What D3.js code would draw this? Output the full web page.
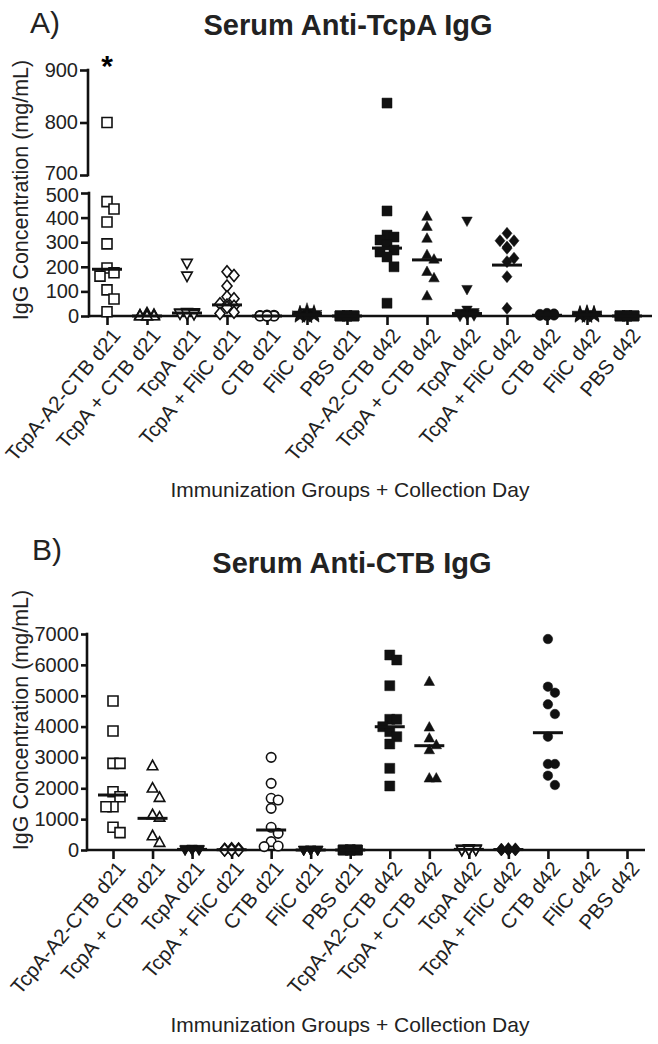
<!DOCTYPE html>
<html>
<head>
<meta charset="utf-8">
<script src="https://cdn.jsdelivr.net/npm/d3@7"></script>
<style>
  html, body { margin: 0; padding: 0; background: #fff; }
  svg { display: block; font-family: "Liberation Sans", Arial, sans-serif; }
</style>
</head>
<body>
<svg id="chart" width="658" height="1044"></svg>
<script>
// ---------------- DATA ----------------
const categories = [
  "TcpA-A2-CTB d21", "TcpA + CTB d21", "TcpA d21", "TcpA + FliC d21",
  "CTB d21", "FliC d21", "PBS d21",
  "TcpA-A2-CTB d42", "TcpA + CTB d42", "TcpA d42", "TcpA + FliC d42",
  "CTB d42", "FliC d42", "PBS d42"
];

// Panel A: Serum anti-TcpA IgG (mg/mL), one list per group
const tcpaValues = [
  [800, 465, 435, 382, 293, 195, 176, 162, 106, 69, 17],
  [12, 5, 3, 2, 1, 0, 0, 0, 0, 0],
  [215, 163, 15, 14, 13, 12, 11, 10, 9, 8],
  [180, 165, 122, 78, 70, 50, 45, 40, 36, 15, 10],
  [4, 3, 2, 2, 1, 1, 0, 0, 0, 0],
  [20, 12, 10, 8, 6, 5, 4, 3, 2, 0],
  [2, 1, 1, 0, 0, 0, 0, 0, 0, 0],
  [837, 427, 329, 321, 309, 289, 268, 260, 240, 200, 52],
  [404, 363, 315, 248, 230, 180, 154, 81],
  [387, 109, 25, 15, 12, 10, 8, 6, 4, 2, 0],
  [336, 306, 306, 280, 275, 235, 221, 160, 31],
  [12, 10, 8, 6, 5, 4, 3, 2, 1, 0],
  [12, 10, 9, 8, 6, 5, 4, 3, 2, 1],
  [2, 1, 1, 0, 0, 0, 0, 0, 0, 0]
];
const tcpaMedians = [190, 0, 12, 45, 0, 5, 0, 276, 228, 10, 207, 3, 5, 0];
const tcpaTicksLow = [0, 100, 200, 300, 400, 500];
const tcpaTicksHigh = [700, 800, 900];

// Panel B: Serum anti-CTB IgG (mg/mL)
const ctbValues = [
  [4828, 3856, 2808, 2808, 1890, 1728, 1404, 1404, 735, 562],
  [2722, 2000, 1696, 1134, 1058, 454, 238],
  [40, 30, 30, 20, 20, 10, 10, 0, 0, 0],
  [40, 30, 20, 20, 10, 10, 0, 0, 0, 0],
  [3003, 2160, 1675, 1620, 1350, 735, 540, 270, 130, 110],
  [10, 5, 0, 0, 0, 0, 0, 0, 0, 0],
  [5, 0, 0, 0, 0, 0, 0, 0, 0, 0],
  [6319, 6157, 5324, 4235, 4235, 3995, 3834, 3672, 3435, 2647, 2074],
  [5454, 3975, 3619, 3402, 3240, 2323, 2323],
  [50, 40, 30, 30, 20, 20, 10, 10, 0, 0],
  [50, 40, 30, 20, 20, 10, 10, 0, 0, 0],
  [6837, 5292, 5098, 4720, 4407, 3672, 2787, 2787, 2408, 2106],
  [],
  []
];
const ctbMedians = [1782, 1026, 20, 10, 648, 0, 0, 3995, 3380, 20, 15, 3801, null, null];
const ctbTicks = [0, 1000, 2000, 3000, 4000, 5000, 6000, 7000];

// ---------------- STYLE ----------------
const symA = ["square","triUp","triDown","diamond","circle","star","square",
              "square","triUp","triDown","diamond","circle","star","square"];
const fillA = [false,false,false,false,false,true,true, true,true,true,true,true,true,true];
const symB = ["square","triUp","triDown","diamond","circle","triDown","square",
              "square","triUp","triDown","diamond","circle","star","square"];
const fillB = [false,false,true,false,false,true,true, true,true,false,true,true,true,true];

function symbolPath(type, r) {
  const p = d3.path();
  if (type === "square") { p.rect(-r, -r, 2 * r, 2 * r); }
  else if (type === "triUp") { p.moveTo(0, -r * 1.15); p.lineTo(r * 1.05, r * 0.75); p.lineTo(-r * 1.05, r * 0.75); p.closePath(); }
  else if (type === "triDown") { p.moveTo(0, r * 1.15); p.lineTo(r * 1.05, -r * 0.75); p.lineTo(-r * 1.05, -r * 0.75); p.closePath(); }
  else if (type === "diamond") { p.moveTo(0, -r * 1.2); p.lineTo(r * 1.0, 0); p.lineTo(0, r * 1.2); p.lineTo(-r * 1.0, 0); p.closePath(); }
  else if (type === "circle") { p.arc(0, 0, r * 0.95, 0, 2 * Math.PI); p.closePath(); }
  else if (type === "star") { return d3.symbol(d3.symbolStar, r * r * 3.2)(); }
  return p.toString();
}

const svg = d3.select("#chart");
const AXW = 2.6;

// simple column-swarm layout: centre, right, left
function swarm(values, yOf, xc, step, ySize) {
  const sorted = values.slice().sort((a, b) => b - a);
  const placed = [];
  const cands = [0, step, -step];
  sorted.forEach(v => {
    const y = yOf(v);
    let best = 0, bestOv = Infinity;
    for (const c of cands) {
      let ov = 0;
      placed.forEach(p => { if (Math.abs(p.y - y) < ySize && Math.abs(p.dx - c) < step) ov++; });
      if (ov < bestOv) { bestOv = ov; best = c; }
      if (ov === 0) break;
    }
    placed.push({ v: v, y: y, dx: best });
  });
  return placed.map(p => ({ v: p.v, x: xc + p.dx, y: p.y }));
}

function drawPanel(o) {
  const g = svg.append("g");
  const x = d3.scalePoint().domain(categories).range(o.xRange);

  // panel letter + title
  g.append("text").attr("x", o.letterX).attr("y", o.letterY)
    .attr("font-size", 30).attr("fill", "#222").text(o.letter);
  g.append("text").attr("x", o.titleX).attr("y", o.titleY)
    .attr("text-anchor", "middle").attr("font-size", 29).attr("font-weight", "bold")
    .attr("fill", "#222").text(o.title);

  // y axes
  o.ySegments.forEach(seg => {
    const ax = g.append("g").attr("transform", `translate(${seg.axisX},0)`)
      .call(d3.axisLeft(seg.scale).tickValues(seg.ticks).tickSizeOuter(0).tickSize(o.yTick).tickPadding(2).tickFormat(d3.format("d")));
    ax.select(".domain").attr("stroke-width", AXW).attr("stroke", "#111");
    ax.selectAll(".tick line").attr("stroke-width", AXW).attr("stroke", "#111");
    ax.selectAll(".tick text").attr("font-size", 20).attr("fill", "#222")
      .attr("font-family", "Liberation Sans, Arial, sans-serif")
      .attr("dy", d => (seg.nudge && seg.nudge[d] !== undefined) ? seg.nudge[d] : "0.32em");
    const r = seg.scale.range();
    ax.select(".domain").attr("d", `M0,${r[0] + AXW / 2}V${r[1] - AXW / 2}`);
  });

  // x axis line
  g.append("line").attr("x1", o.xLine[0]).attr("x2", o.xLine[1])
    .attr("y1", o.axisY).attr("y2", o.axisY)
    .attr("stroke", "#111").attr("stroke-width", AXW);
  const xa = g.append("g").attr("transform", `translate(0,${o.axisY})`)
    .call(d3.axisBottom(x).tickSize(9).tickSizeOuter(0));
  xa.select(".domain").remove();
  xa.selectAll(".tick line").attr("stroke", "#111").attr("stroke-width", AXW);
  xa.selectAll(".tick text")
    .attr("x", 0).attr("y", 0).attr("dy", 0)
    .attr("transform", `translate(${o.labDX},${o.labDY}) rotate(-50)`)
    .style("text-anchor", "end").attr("font-size", 20.5).attr("fill", "#222")
    .attr("font-family", "Liberation Sans, Arial, sans-serif");

  // axis titles
  g.append("text").attr("transform", `translate(${o.yTitleX},${o.yTitleY}) rotate(-90)`)
    .attr("text-anchor", "middle").attr("font-size", 21.5).attr("fill", "#222")
    .text("IgG Concentration (mg/mL)");
  g.append("text").attr("x", o.xTitleX).attr("y", o.xTitleY)
    .attr("text-anchor", "middle").attr("font-size", 21).attr("fill", "#222")
    .text("Immunization Groups + Collection Day");

  // points
  const pts = g.append("g");
  o.values.forEach((vals, i) => {
    const xc = x(categories[i]);
    const placed = swarm(vals, o.yOf, xc, 7, 10);
    pts.selectAll(null).data(placed).enter().append("path")
      .attr("d", symbolPath(o.sym[i], 5))
      .attr("transform", d => `translate(${d.x},${d.y})`)
      .attr("fill", o.fill[i] ? "#111" : "#fff")
      .attr("stroke", "#111").attr("stroke-width", o.fill[i] ? 0.5 : 1.6);
  });
  // medians
  g.append("g").selectAll("line").data(o.medians.map((m, i) => ({ m: m, i: i })).filter(d => d.m !== null))
    .enter().append("line")
    .attr("x1", d => x(categories[d.i]) - 15).attr("x2", d => x(categories[d.i]) + 15)
    .attr("y1", d => o.yOf(d.m)).attr("y2", d => o.yOf(d.m))
    .attr("stroke", "#111").attr("stroke-width", 3);

  if (o.extra) o.extra(g, x);
}

// Panel A scales (broken axis)
const yALow = d3.scaleLinear().domain([0, 500]).range([316, 193]);
const yAHigh = d3.scaleLinear().domain([700, 900]).range([175, 70]);
drawPanel({
  letter: "A)", letterX: 30, letterY: 33,
  title: "Serum Anti-TcpA IgG", titleX: 348, titleY: 35,
  xRange: [107, 627], xLine: [88, 652], axisY: 316,
  ySegments: [
    { scale: yALow, ticks: tcpaTicksLow, axisX: 89, nudge: { 500: "0.42em" } },
    { scale: yAHigh, ticks: tcpaTicksHigh, axisX: 88, nudge: { 700: "0.2em" } }
  ],
  yTick: 8,
  yOf: v => v > 600 ? yAHigh(v) : yALow(v),
  labDX: 14, labDY: 20,
  yTitleX: 28, yTitleY: 190,
  xTitleX: 350, xTitleY: 497,
  values: tcpaValues, medians: tcpaMedians, sym: symA, fill: fillA,
  extra: (g, x) => {
    g.append("text").attr("x", x(categories[0])).attr("y", 76)
      .attr("text-anchor", "middle").attr("font-size", 30).attr("font-weight", "bold").text("*");
  }
});

const yB = d3.scaleLinear().domain([0, 7000]).range([850, 634]);
drawPanel({
  letter: "B)", letterX: 32, letterY: 560,
  title: "Serum Anti-CTB IgG", titleX: 352, titleY: 573,
  xRange: [113, 627], xLine: [87, 645], axisY: 850,
  ySegments: [{ scale: yB, ticks: ctbTicks, axisX: 87 }],
  yTick: 6,
  yOf: v => yB(v),
  labDX: 13, labDY: 19,
  yTitleX: 28, yTitleY: 720,
  xTitleX: 350, xTitleY: 1032,
  values: ctbValues, medians: ctbMedians, sym: symB, fill: fillB
});
</script>
</body>
</html>
